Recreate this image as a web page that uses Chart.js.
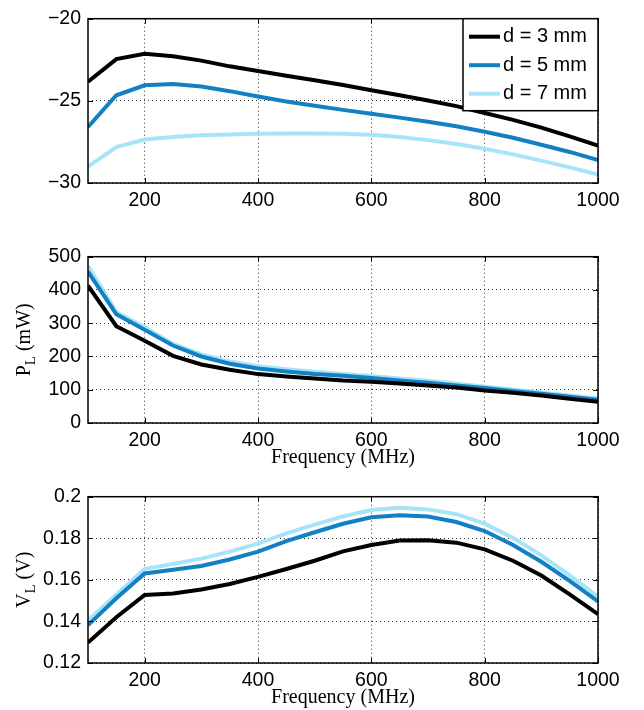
<!DOCTYPE html>
<html>
<head>
<meta charset="utf-8">
<script src="https://cdn.jsdelivr.net/npm/chart.js@4.4.1/dist/chart.umd.min.js"></script>
<style>
  body { margin: 0; background: #fff; width: 644px; height: 710px; position: relative; overflow: hidden; }
  canvas { position: absolute; left: 0; }
</style>
</head>
<body>
<canvas id="chart-top" width="644" height="230" style="top:0px"></canvas>
<canvas id="chart-power" width="644" height="235" style="top:238px"></canvas>
<canvas id="chart-volt" width="644" height="232" style="top:478px"></canvas>
<script>
// frequency points (MHz)
const freq = [100, 150, 200, 250, 300, 350, 400, 450, 500, 550, 600, 650, 700, 750, 800, 850, 900, 950, 1000];
const xTicks = [200, 400, 600, 800, 1000];
const seriesLabels = ['d = 3 mm', 'd = 5 mm', 'd = 7 mm'];

// top panel (dB)
const topD3 = [-23.84, -22.46, -22.14, -22.29, -22.55, -22.9, -23.18, -23.47, -23.75, -24.03, -24.36, -24.66, -24.98, -25.32, -25.74, -26.16, -26.63, -27.16, -27.73];
const topD5 = [-26.59, -24.66, -24.05, -23.98, -24.13, -24.41, -24.73, -25.04, -25.3, -25.55, -25.78, -26.02, -26.27, -26.55, -26.88, -27.25, -27.67, -28.11, -28.6];
const topD7 = [-29.0, -27.82, -27.35, -27.2, -27.1, -27.05, -27.01, -26.99, -26.99, -27.01, -27.06, -27.2, -27.39, -27.63, -27.92, -28.26, -28.64, -29.05, -29.49];
const topYTicks = [-30, -25, -20];

// load power P_L (mW)
const powerD3 = [413, 291, 247, 202, 176, 160, 147, 140, 134, 128, 124, 119, 113, 107, 98, 91, 83, 73, 64];
const powerD5 = [455, 327, 280, 233, 200, 178, 164, 155, 147, 142, 135, 128, 121, 113, 105, 96, 88, 79, 70];
const powerD7 = [472, 334, 288, 238, 206, 185, 171, 162, 154, 147, 141, 134, 127, 119, 109, 101, 92, 83, 74];
const powerYTicks = [0, 100, 200, 300, 400, 500];

// load voltage V_L (V)
const voltD3 = [0.1298, 0.142, 0.1527, 0.1534, 0.1554, 0.158, 0.1614, 0.1652, 0.1692, 0.1737, 0.1768, 0.1789, 0.1791, 0.1779, 0.1747, 0.1692, 0.1621, 0.153, 0.1435];
const voltD5 = [0.1382, 0.1511, 0.1631, 0.1649, 0.1667, 0.1698, 0.1736, 0.1786, 0.1829, 0.187, 0.1901, 0.1911, 0.1905, 0.1878, 0.1835, 0.1768, 0.1687, 0.1595, 0.1496];
const voltD7 = [0.1405, 0.153, 0.1653, 0.1676, 0.1702, 0.1736, 0.1774, 0.1824, 0.1866, 0.1905, 0.1936, 0.1947, 0.1939, 0.1916, 0.187, 0.1802, 0.1718, 0.1621, 0.1519];
const voltYTicks = [0.12, 0.14, 0.16, 0.18, 0.2];

const colors = ['#000000', '#1380C4', '#A8E4F8'];
const tickFont = { family: 'Liberation Sans', size: 19.5 };

// frame, inward ticks, axis titles and legend, matlab style
const matlabAxes = {
  id: 'matlabAxes',
  afterDraw(chart, args, opts) {
    const ctx = chart.ctx;
    const a = chart.chartArea;
    const xs = chart.scales.x, ys = chart.scales.y;
    ctx.save();
    ctx.strokeStyle = '#000';
    ctx.lineWidth = 1.5;
    ctx.strokeRect(a.left, a.top, a.right - a.left, a.bottom - a.top);
    ctx.lineWidth = 1;
    ctx.beginPath();
    xs.ticks.forEach(t => {
      const px = Math.round(xs.getPixelForValue(t.value)) + 0.5;
      ctx.moveTo(px, a.bottom); ctx.lineTo(px, a.bottom - 5);
      ctx.moveTo(px, a.top); ctx.lineTo(px, a.top + 5);
    });
    ys.ticks.forEach(t => {
      const py = Math.round(ys.getPixelForValue(t.value)) + 0.5;
      ctx.moveTo(a.left, py); ctx.lineTo(a.left + 5, py);
      ctx.moveTo(a.right, py); ctx.lineTo(a.right - 5, py);
    });
    ctx.stroke();

    ctx.fillStyle = '#000';
    ctx.textBaseline = 'middle';
    if (opts.xTitle) {
      ctx.font = '20px "Liberation Serif"';
      ctx.textAlign = 'center';
      ctx.fillText(opts.xTitle, (a.left + a.right) / 2, a.bottom + 35);
    }
    if (opts.yTitle) {
      const [main, sub, rest] = opts.yTitle;
      ctx.save();
      ctx.translate(25, (a.top + a.bottom) / 2);
      ctx.rotate(-Math.PI / 2);
      ctx.textAlign = 'left';
      ctx.font = '20px "Liberation Serif"';
      const w1 = ctx.measureText(main).width;
      const w3 = ctx.measureText(rest).width;
      ctx.font = '15px "Liberation Serif"';
      const w2 = ctx.measureText(sub).width;
      let x = -(w1 + w2 + w3) / 2;
      ctx.font = '20px "Liberation Serif"';
      ctx.fillText(main, x, 0);
      ctx.font = '15px "Liberation Serif"';
      ctx.fillText(sub, x + w1, 6);
      ctx.font = '20px "Liberation Serif"';
      ctx.fillText(rest, x + w1 + w2, 0);
      ctx.restore();
    }
    if (opts.legend) {
      const w = 135, h = 92;
      const bx = a.right - w, by = a.top;
      ctx.fillStyle = '#fff';
      ctx.fillRect(bx, by, w, h);
      ctx.strokeStyle = '#000';
      ctx.lineWidth = 1.5;
      ctx.strokeRect(bx, by, w, h);
      ctx.font = '20px "Liberation Sans"';
      ctx.textAlign = 'left';
      chart.data.datasets.forEach((ds, i) => {
        const cy = by + 18 + i * 28.5;
        ctx.strokeStyle = ds.borderColor;
        ctx.lineWidth = 4;
        ctx.beginPath();
        ctx.moveTo(bx + 6, cy); ctx.lineTo(bx + 37, cy);
        ctx.stroke();
        ctx.fillStyle = '#000';
        ctx.fillText(ds.label, bx + 40, cy);
      });
    }
    ctx.restore();
  }
};

function fmt(v) {
  return v < 0 ? '\u2212' + Math.abs(v) : String(v);
}

function makePanel(id, series, yTicks, padTop, xHeight, plugOpts) {
  const ctx = document.getElementById(id);
  return new Chart(ctx, {
    type: 'line',
    data: {
      datasets: series.map((vals, i) => ({
        label: seriesLabels[i],
        data: freq.map((f, j) => ({ x: f, y: vals[j] })),
        borderColor: colors[i],
        backgroundColor: colors[i],
        borderWidth: 4,
        pointRadius: 0,
        tension: 0,
        fill: false
      }))
    },
    options: {
      responsive: false,
      animation: false,
      layout: { padding: { top: padTop, right: 46, left: 0, bottom: 0 } },
      plugins: {
        legend: { display: false },
        tooltip: { enabled: false },
        matlabAxes: plugOpts
      },
      scales: {
        x: {
          type: 'linear',
          min: 100,
          max: 1000,
          afterBuildTicks: s => { s.ticks = xTicks.map(v => ({ value: v })); },
          afterFit: s => { s.height = xHeight; },
          ticks: { font: tickFont, color: '#000', padding: 6, maxRotation: 0, autoSkip: false, callback: v => String(v) },
          grid: { color: 'rgba(0,0,0,0.8)', lineWidth: 1, drawTicks: false },
          border: { display: false, dash: [1, 3] }
        },
        y: {
          type: 'linear',
          min: yTicks[0],
          max: yTicks[yTicks.length - 1],
          afterBuildTicks: s => { s.ticks = yTicks.map(v => ({ value: v })); },
          afterFit: s => { s.width = 88; },
          ticks: { font: tickFont, color: '#000', padding: 7, callback: v => fmt(v) },
          grid: { color: 'rgba(0,0,0,0.8)', lineWidth: 1, drawTicks: false },
          border: { display: false, dash: [1, 3] }
        }
      }
    },
    plugins: [matlabAxes]
  });
}

makePanel('chart-top', [topD3, topD5, topD7], topYTicks, 7, 47, { legend: true });
makePanel('chart-power', [powerD3, powerD5, powerD7], powerYTicks, 10, 50,
  { xTitle: 'Frequency (MHz)', yTitle: ['P', 'L', ' (mW)'] });
makePanel('chart-volt', [voltD3, voltD5, voltD7], voltYTicks, 10, 47,
  { xTitle: 'Frequency (MHz)', yTitle: ['V', 'L', ' (V)'] });
</script>
</body>
</html>
